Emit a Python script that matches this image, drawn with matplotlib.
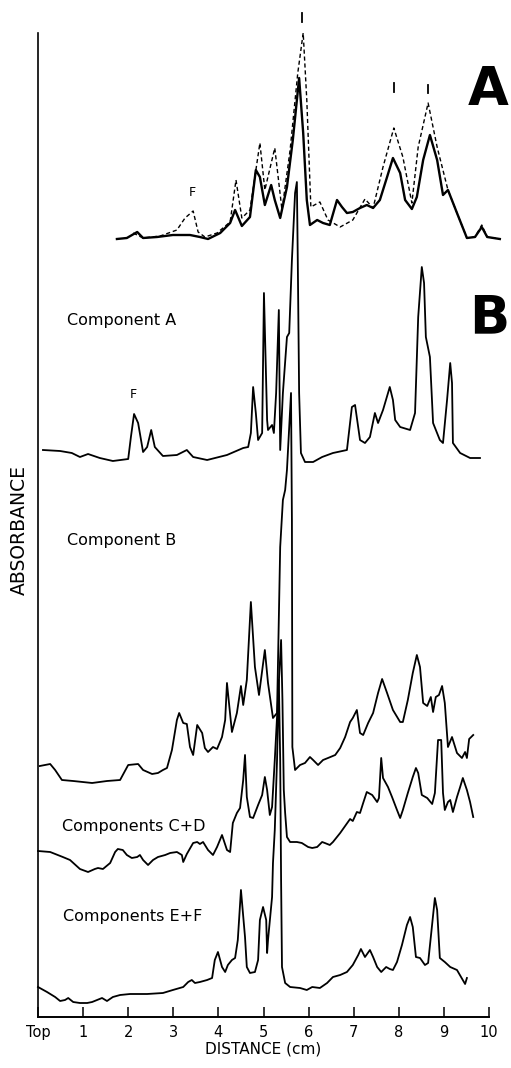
import matplotlib
matplotlib.use("Agg")
import matplotlib.pyplot as plt

# ---------------- data (distance in cm, absorbance in arbitrary stacked units) ----------------
a_solid_x = [1.75, 1.97, 2.20, 2.33, 2.64, 2.99, 3.37, 3.59, 3.77, 4.04, 4.26, 4.37, 4.52, 4.70, 4.83, 4.92,
             5.03, 5.17, 5.25, 5.37, 5.52, 5.65, 5.79, 5.88, 5.96, 6.03, 6.19, 6.32, 6.47, 6.63, 6.74, 6.85,
             6.98, 7.14, 7.29, 7.43, 7.58, 7.74, 7.87, 8.03, 8.14, 8.29, 8.40, 8.54, 8.69, 8.85, 8.98, 9.09,
             9.29, 9.51, 9.69, 9.84, 9.96, 10.24]
a_solid_y = [7.78, 7.79, 7.85, 7.79, 7.80, 7.82, 7.82, 7.80, 7.78, 7.84, 7.94, 8.07, 7.91, 8.00, 8.47, 8.40,
             8.12, 8.32, 8.17, 7.99, 8.30, 8.77, 9.39, 8.84, 8.17, 7.92, 7.97, 7.94, 7.92, 8.17, 8.10, 8.04,
             8.05, 8.09, 8.12, 8.09, 8.17, 8.40, 8.59, 8.44, 8.17, 8.08, 8.20, 8.57, 8.82, 8.57, 8.22, 8.27,
             8.04, 7.79, 7.80, 7.90, 7.80, 7.78]

a_dash_x = [2.11, 2.33, 2.71, 3.08, 3.26, 3.44, 3.55, 3.70, 3.97, 4.26, 4.39, 4.52, 4.70, 4.92, 5.03, 5.25,
            5.41, 5.59, 5.76, 5.88, 5.96, 6.05, 6.25, 6.43, 6.70, 6.98, 7.25, 7.43, 7.65, 7.89, 8.09, 8.29,
            8.43, 8.65, 8.85, 9.09, 9.29, 9.51, 9.69, 9.84, 9.96, 10.24]
a_dash_y = [7.84, 7.79, 7.81, 7.87, 7.99, 8.06, 7.85, 7.80, 7.84, 7.95, 8.37, 7.99, 8.07, 8.74, 8.27, 8.69,
            8.07, 8.67, 9.44, 9.84, 9.17, 8.10, 8.15, 7.97, 7.90, 7.97, 8.18, 8.09, 8.50, 8.89, 8.60, 8.14,
            8.70, 9.14, 8.70, 8.27, 8.04, 7.79, 7.80, 7.92, 7.80, 7.78]

comp_a_x = [0.11, 0.49, 0.75, 0.93, 1.11, 1.37, 1.66, 2.00, 2.06, 2.13, 2.22, 2.33, 2.42, 2.51, 2.59, 2.77,
            3.08, 3.30, 3.44, 3.75, 4.19, 4.55, 4.66, 4.72, 4.77, 4.83, 4.88, 4.97, 5.01, 5.08, 5.10, 5.19,
            5.23, 5.28, 5.34, 5.37, 5.43, 5.52, 5.57, 5.63, 5.70, 5.74, 5.76, 5.79, 5.83, 5.92, 6.10, 6.30,
            6.54, 6.85, 6.96, 7.03, 7.14, 7.25, 7.36, 7.47, 7.54, 7.65, 7.80, 7.87, 7.92, 8.03, 8.25, 8.36,
            8.43, 8.51, 8.56, 8.60, 8.69, 8.76, 8.91, 8.98, 9.07, 9.14, 9.18, 9.20, 9.36, 9.58, 9.80]
comp_a_y = [5.67, 5.66, 5.64, 5.60, 5.63, 5.59, 5.56, 5.58, 5.80, 6.03, 5.94, 5.65, 5.70, 5.87, 5.70, 5.61,
            5.62, 5.67, 5.60, 5.57, 5.62, 5.69, 5.70, 5.84, 6.30, 6.04, 5.77, 5.84, 7.24, 5.97, 5.87, 5.92,
            5.84, 6.24, 7.07, 5.67, 6.24, 6.80, 6.84, 7.57, 8.24, 8.35, 7.57, 6.24, 5.64, 5.55, 5.55, 5.60,
            5.64, 5.67, 6.10, 6.12, 5.77, 5.74, 5.80, 6.04, 5.94, 6.07, 6.30, 6.17, 5.97, 5.90, 5.87, 6.04,
            7.00, 7.50, 7.34, 6.80, 6.60, 5.94, 5.77, 5.74, 6.17, 6.54, 6.34, 5.74, 5.64, 5.59, 5.59]

comp_b_x = [0.04, 0.27, 0.38, 0.53, 0.78, 1.20, 1.53, 1.82, 2.00, 2.22, 2.33, 2.53, 2.66, 2.77, 2.86, 2.97,
            3.08, 3.13, 3.22, 3.30, 3.37, 3.44, 3.53, 3.64, 3.70, 3.77, 3.88, 3.97, 4.08, 4.15, 4.19, 4.30,
            4.41, 4.50, 4.55, 4.63, 4.72, 4.81, 4.90, 5.03, 5.10, 5.21, 5.30, 5.37, 5.43, 5.48, 5.52, 5.61,
            5.63, 5.64, 5.70, 5.81, 5.92, 6.03, 6.10, 6.21, 6.32, 6.43, 6.59, 6.70, 6.81, 6.92, 6.98, 7.07,
            7.14, 7.21, 7.32, 7.43, 7.54, 7.63, 7.74, 7.87, 8.03, 8.09, 8.20, 8.31, 8.40, 8.47, 8.54, 8.63,
            8.71, 8.76, 8.82, 8.89, 8.96, 9.02, 9.09, 9.18, 9.29, 9.40, 9.47, 9.51, 9.56, 9.65]
comp_b_y = [2.51, 2.53, 2.47, 2.37, 2.36, 2.34, 2.36, 2.37, 2.52, 2.53, 2.47, 2.43, 2.44, 2.47, 2.49, 2.67,
            2.97, 3.04, 2.94, 2.93, 2.70, 2.62, 2.92, 2.84, 2.69, 2.65, 2.70, 2.68, 2.80, 2.97, 3.34, 2.85,
            3.04, 3.31, 3.12, 3.37, 4.15, 3.50, 3.22, 3.67, 3.34, 2.99, 3.04, 4.70, 5.17, 5.27, 5.47, 6.24,
            4.97, 2.70, 2.47, 2.52, 2.54, 2.60, 2.57, 2.52, 2.57, 2.59, 2.62, 2.69, 2.80, 2.95, 2.99, 3.07,
            2.84, 2.82, 2.94, 3.04, 3.24, 3.38, 3.24, 3.07, 2.95, 2.95, 3.17, 3.44, 3.62, 3.50, 3.14, 3.11,
            3.20, 3.05, 3.20, 3.22, 3.31, 3.14, 2.70, 2.80, 2.64, 2.59, 2.65, 2.59, 2.78, 2.82]

comp_cd_x = [0.00, 0.27, 0.55, 0.71, 0.93, 1.11, 1.26, 1.33, 1.44, 1.60, 1.71, 1.77, 1.88, 1.97, 2.08, 2.20,
             2.26, 2.33, 2.44, 2.55, 2.66, 2.82, 2.93, 3.08, 3.19, 3.22, 3.30, 3.44, 3.53, 3.59, 3.66, 3.77,
             3.88, 3.97, 4.08, 4.19, 4.26, 4.32, 4.41, 4.48, 4.55, 4.59, 4.63, 4.70, 4.77, 4.88, 4.97, 5.03,
             5.08, 5.14, 5.19, 5.25, 5.32, 5.39, 5.42, 5.45, 5.48, 5.52, 5.59, 5.74, 5.85, 5.99, 6.08, 6.19,
             6.30, 6.36, 6.47, 6.54, 6.70, 6.81, 6.92, 6.98, 7.07, 7.14, 7.21, 7.29, 7.41, 7.52, 7.56, 7.61,
             7.65, 7.76, 7.85, 7.96, 8.03, 8.09, 8.20, 8.31, 8.38, 8.43, 8.51, 8.63, 8.74, 8.80, 8.87, 8.94,
             8.98, 9.02, 9.09, 9.14, 9.20, 9.29, 9.36, 9.42, 9.51, 9.58, 9.65]
comp_cd_y = [1.66, 1.65, 1.60, 1.57, 1.48, 1.45, 1.48, 1.49, 1.48, 1.54, 1.65, 1.68, 1.67, 1.62, 1.59, 1.60,
             1.62, 1.57, 1.52, 1.57, 1.60, 1.62, 1.64, 1.65, 1.62, 1.55, 1.63, 1.74, 1.75, 1.73, 1.75, 1.67,
             1.62, 1.70, 1.82, 1.67, 1.65, 1.94, 2.04, 2.09, 2.37, 2.62, 2.20, 2.00, 1.99, 2.12, 2.22, 2.40,
             2.27, 2.02, 2.10, 2.57, 3.17, 3.77, 3.17, 2.27, 2.04, 1.80, 1.75, 1.75, 1.74, 1.70, 1.69, 1.70,
             1.75, 1.74, 1.72, 1.75, 1.84, 1.91, 1.98, 1.96, 2.05, 2.04, 2.14, 2.25, 2.22, 2.15, 2.19, 2.59,
             2.39, 2.30, 2.20, 2.07, 1.99, 2.07, 2.24, 2.40, 2.49, 2.44, 2.22, 2.19, 2.13, 2.24, 2.77, 2.77,
             2.24, 2.07, 2.15, 2.17, 2.05, 2.20, 2.30, 2.39, 2.27, 2.15, 2.00]

comp_ef_x = [0.00, 0.20, 0.38, 0.49, 0.60, 0.67, 0.78, 0.93, 1.09, 1.20, 1.31, 1.42, 1.53, 1.66, 1.82, 2.04,
             2.42, 2.77, 2.99, 3.22, 3.33, 3.41, 3.48, 3.59, 3.75, 3.86, 3.88, 3.92, 3.99, 4.08, 4.15, 4.21,
             4.30, 4.37, 4.43, 4.50, 4.59, 4.63, 4.70, 4.81, 4.88, 4.92, 4.99, 5.06, 5.08, 5.10, 5.19, 5.21,
             5.25, 5.30, 5.34, 5.37, 5.39, 5.41, 5.48, 5.59, 5.81, 5.96, 6.08, 6.25, 6.41, 6.54, 6.70, 6.85,
             6.98, 7.10, 7.16, 7.25, 7.36, 7.43, 7.52, 7.61, 7.72, 7.80, 7.87, 7.96, 8.07, 8.18, 8.25, 8.31,
             8.38, 8.47, 8.58, 8.65, 8.71, 8.80, 8.85, 8.91, 9.02, 9.14, 9.29, 9.38, 9.47, 9.51]
comp_ef_y = [0.30, 0.25, 0.20, 0.16, 0.17, 0.19, 0.15, 0.14, 0.14, 0.15, 0.17, 0.19, 0.16, 0.20, 0.22, 0.23,
             0.23, 0.24, 0.27, 0.30, 0.35, 0.37, 0.34, 0.35, 0.37, 0.39, 0.45, 0.57, 0.65, 0.50, 0.45, 0.52,
             0.57, 0.59, 0.77, 1.27, 0.80, 0.50, 0.44, 0.45, 0.57, 0.97, 1.10, 0.97, 0.64, 0.77, 1.20, 1.54,
             1.87, 2.57, 3.37, 2.57, 1.37, 0.50, 0.34, 0.30, 0.29, 0.27, 0.30, 0.29, 0.34, 0.40, 0.42, 0.45,
             0.52, 0.62, 0.68, 0.60, 0.67, 0.60, 0.50, 0.45, 0.50, 0.48, 0.47, 0.55, 0.72, 0.92, 1.00, 0.90,
             0.60, 0.59, 0.52, 0.54, 0.80, 1.19, 1.07, 0.59, 0.55, 0.50, 0.47, 0.40, 0.33, 0.39]

# positions of the "I" marks above panel A (cm) and their bottom/top levels
mark_x = [5.85, 7.89, 8.65]
mark_lo = [9.95, 9.25, 9.24]
mark_hi = [10.04, 9.34, 9.32]

tick_pos = [0, 1, 2, 3, 4, 5, 6, 7, 8, 9, 10]
tick_labels = ["Top", "1", "2", "3", "4", "5", "6", "7", "8", "9", "10"]

# ---------------- figure ----------------
W, H = 511, 1068
fig = plt.figure(figsize=(W / 100, H / 100), dpi=100)
ax = fig.add_axes([38 / W, (H - 1017) / H, 451 / W, 984 / H])
ax.set_xlim(0, 10)
ax.set_ylim(0, 9.84)

lw = 1.3
ax.plot(a_solid_x, a_solid_y, color="black", lw=1.7, clip_on=False, solid_joinstyle="round")
ax.plot(a_dash_x, a_dash_y, color="black", lw=1.0, ls=(0, (3, 2)), clip_on=False)
for xs, ys in [(comp_a_x, comp_a_y), (comp_b_x, comp_b_y), (comp_cd_x, comp_cd_y), (comp_ef_x, comp_ef_y)]:
    ax.plot(xs, ys, color="black", lw=lw, clip_on=False, solid_joinstyle="round")

for mx, lo, hi in zip(mark_x, mark_lo, mark_hi):
    ax.plot([mx, mx], [lo, hi], color="black", lw=1.3, clip_on=False)

# axes styling
for s in ["top", "right"]:
    ax.spines[s].set_visible(False)
ax.spines["left"].set_linewidth(1.2)
ax.spines["bottom"].set_linewidth(1.4)
ax.set_yticks([])
ax.set_xticks(tick_pos)
ax.set_xticklabels(tick_labels, fontsize=10.5)
ax.tick_params(axis="x", direction="in", length=7, width=1.1, pad=6)
ax.set_xlabel("DISTANCE (cm)", fontsize=11, labelpad=1)

# labels
def ptxt(px, py, s, **kw):
    fig.text(px / W, 1 - py / H, s, **kw)

ptxt(67, 320, "Component A", fontsize=11.5, va="center", ha="left")
ptxt(67, 541, "Component B", fontsize=11.5, va="center", ha="left")
ptxt(62, 826, "Components C+D", fontsize=11.5, va="center", ha="left")
ptxt(63, 917, "Components E+F", fontsize=11.5, va="center", ha="left")
ptxt(192, 193, "F", fontsize=9, va="center", ha="center")
ptxt(133, 394, "F", fontsize=9, va="center", ha="center")
ptxt(19, 530, "ABSORBANCE", fontsize=13.5, rotation=90, va="center", ha="center")

ptxt(509, 90, "A", fontsize=38, fontweight="bold", va="center", ha="right")
ptxt(509, 318, "B", fontsize=38, fontweight="bold", va="center", ha="right")

fig.savefig("out.png", dpi=100)
